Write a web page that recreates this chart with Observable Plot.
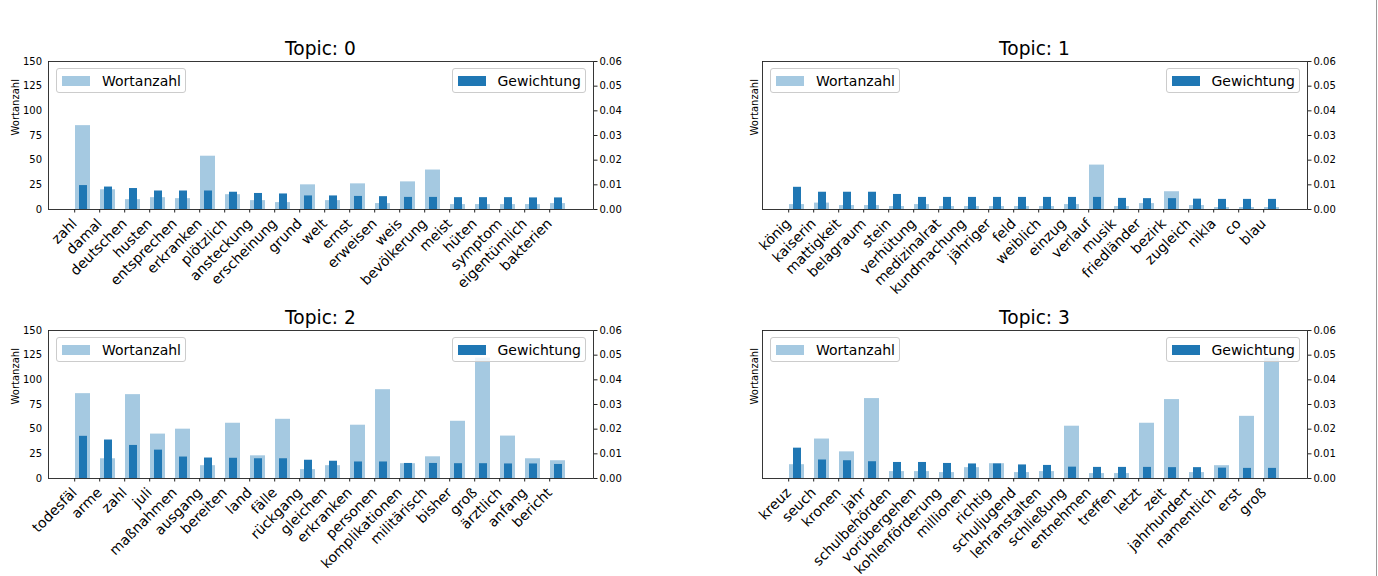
<!DOCTYPE html>
<html><head><meta charset="utf-8">
<script src="https://cdn.jsdelivr.net/npm/d3@7"></script>
<script src="https://cdn.jsdelivr.net/npm/@observablehq/plot@0.6"></script>
<style>
html,body{margin:0;padding:0;background:#fff;width:1378px;height:576px;overflow:hidden;font-family:"DejaVu Sans",sans-serif;}
#root{position:relative;width:1378px;height:576px;}
.layer{position:absolute;}
.title{position:absolute;font-size:18.6px;line-height:18.6px;text-align:center;width:545px;white-space:nowrap;color:#000;}
.legend{position:absolute;height:23px;border:1px solid #cccccc;border-radius:3px;background:rgba(255,255,255,0.8);display:flex;align-items:center;padding:0 4px 0 5px;font-size:14px;white-space:nowrap;color:#000;}
.sw{width:28px;height:10px;margin-right:12px;}
.vline{position:absolute;left:1376px;top:0;width:1px;height:576px;background:#9a9a9a;}
</style></head>
<body><div id="root"></div>
<script>
// ---- data ----
const topicTitles = ["Topic: 0", "Topic: 1", "Topic: 2", "Topic: 3"];
const seriesNames = ["Wortanzahl", "Gewichtung"];
const leftTicks = [0, 25, 50, 75, 100, 125, 150];
const rightTicks = [0, 0.01, 0.02, 0.03, 0.04, 0.05, 0.06];

const topic0Words = ["zahl","damal","deutschen","husten","entsprechen","erkranken","plötzlich","ansteckung","erscheinung","grund","welt","ernst","erweisen","weis","bevölkerung","meist","hüten","symptom","eigentümlich","bakterien"];
const topic0Counts = [85,20,10,12,11,54,15,9,7,25,9,26,6,28,40,5,5,5,5,6];
const topic0Weights = [0.0097,0.0091,0.0085,0.0075,0.0075,0.0075,0.0070,0.0065,0.0063,0.0055,0.0055,0.0053,0.0052,0.0049,0.0049,0.0048,0.0048,0.0048,0.0047,0.0047];

const topic1Words = ["könig","kaiserin","mattigkeit","belagraum","stein","verhütung","medizinalrat","kundmachung","jähriger","feld","weiblich","einzug","verlauf","musik","friedländer","bezirk","zugleich","nikla","co","blau"];
const topic1Counts = [5,6.5,4,4,3,5,3,3,3,3,3,5,45,3,6,18,4,2,2,2];
const topic1Weights = [0.0090,0.0070,0.0070,0.0070,0.0061,0.0049,0.0049,0.0049,0.0049,0.0049,0.0049,0.0049,0.0049,0.0045,0.0044,0.0044,0.0042,0.0041,0.0041,0.0041];

const topic2Words = ["todesfäl","arme","zahl","juli","maßnahmen","ausgang","bereiten","land","fälle","rückgang","gleichen","erkranken","personen","komplikationen","militärisch","bisher","groß","ärztlich","anfang","bericht"];
const topic2Counts = [86,20,85,45,50,13,56,23,60,9,13,54,90,15,22,58,122,43,20,18];
const topic2Weights = [0.0171,0.0156,0.0134,0.0115,0.0087,0.0083,0.0082,0.0080,0.0080,0.0074,0.0070,0.0067,0.0067,0.0061,0.0061,0.0060,0.0060,0.0059,0.0059,0.0057];

const topic3Words = ["kreuz","seuch","kronen","jahr","schulbehörden","vorübergehen","kohlenförderung","millionen","richtig","schuljugend","lehranstalten","schließung","entnehmen","treffen","letzt","zeit","jahrhundert","namentlich","erst","groß"];
const topic3Counts = [14,40,27,81,7,7,6,11,15,6,7,53,5,5,56,80,6,13,63,122];
const topic3Weights = [0.0123,0.0075,0.0072,0.0068,0.0065,0.0065,0.0061,0.0059,0.0059,0.0055,0.0053,0.0046,0.0045,0.0045,0.0045,0.0044,0.0044,0.0042,0.0041,0.0041];

const topicWords = [topic0Words, topic1Words, topic2Words, topic3Words];
const topicCounts = [topic0Counts, topic1Counts, topic2Counts, topic3Counts];
const topicWeights = [topic0Weights, topic1Weights, topic2Weights, topic3Weights];

// ---- layout ----
const C0 = "#1f77b4";
const lightOpacity = 0.4;
const W = 664, H = 307, ML = 48, MR = 71, MT = 61, MB = 98;
const panelPos = [{left:0, top:0}, {left:714, top:0}, {left:0, top:269}, {left:714, top:269}];
const baseStyle = {fontFamily: "DejaVu Sans", fontSize: "10px", background: "transparent", overflow: "visible", color: "#000"};

const root = document.getElementById("root");

function place(el, left, top) {
  el.classList.add("layer");
  el.style.left = left + "px";
  el.style.top = top + "px";
  root.appendChild(el);
}

topicWords.forEach((words, t) => {
  const pos = panelPos[t];
  const showLeft = pos.left === 0;
  const countData = words.map((w, i) => ({word: w, count: topicCounts[t][i]}));
  const weightData = words.map((w, i) => ({word: w, weight: topicWeights[t][i]}));

  const plotA = Plot.plot({
    width: W, height: H, marginLeft: ML, marginRight: MR, marginTop: MT, marginBottom: MB,
    style: baseStyle,
    x: {type: "band", domain: words, paddingInner: 0.4, paddingOuter: 0.98, align: 0.5},
    y: {domain: [0, 150], axis: showLeft ? undefined : null},
    marks: [
      Plot.barY(countData, {x: "word", y: "count", fill: C0, fillOpacity: lightOpacity}),
      Plot.axisX({tickRotate: -45, tickSize: 3.5, fontSize: 14, label: null, stroke: "#222", dx: -8.3}),
      showLeft ? Plot.axisY({ticks: leftTicks, tickSize: 0, tickPadding: 6.5, label: null}) : null,
      Plot.text([seriesNames[0]], {text: d => d, frameAnchor: "left", rotate: -90, dx: showLeft ? -33 : -8, fontSize: 10}),
      Plot.frame({stroke: "#222", strokeWidth: 0.9})
    ]
  });
  place(plotA, pos.left, pos.top);

  const plotB = Plot.plot({
    width: W, height: H, marginLeft: ML, marginRight: MR, marginTop: MT, marginBottom: MB,
    style: baseStyle,
    x: {type: "band", domain: words, paddingInner: 0.7, paddingOuter: 1.13, align: 0.5, axis: null},
    y: {domain: [0, 0.06]},
    marks: [
      Plot.barY(weightData, {x: "word", y: "weight", fill: C0}),
      Plot.axisY({anchor: "right", ticks: rightTicks, tickSize: 3.5, tickPadding: 2.5, tickFormat: d3.format(".2f"), label: null, stroke: "#222"})
    ]
  });
  place(plotB, pos.left, pos.top);

  const frameLeft = pos.left + ML, frameTop = pos.top + MT, frameRight = pos.left + W - MR;

  const title = document.createElement("div");
  title.className = "title";
  title.textContent = topicTitles[t];
  title.style.left = frameLeft + "px";
  title.style.top = (frameTop - 21) + "px";
  root.appendChild(title);

  const lg1 = document.createElement("div");
  lg1.className = "legend";
  lg1.innerHTML = `<div class="sw" style="background:${C0};opacity:${lightOpacity}"></div><span>${seriesNames[0]}</span>`;
  lg1.style.left = (frameLeft + 8) + "px";
  lg1.style.top = (frameTop + 7) + "px";
  root.appendChild(lg1);

  const lg2 = document.createElement("div");
  lg2.className = "legend";
  lg2.innerHTML = `<div class="sw" style="background:${C0}"></div><span>${seriesNames[1]}</span>`;
  lg2.style.right = (1378 - (frameRight - 7)) + "px";
  lg2.style.top = (frameTop + 7) + "px";
  root.appendChild(lg2);
});

const vline = document.createElement("div");
vline.className = "vline";
root.appendChild(vline);
</script>
</body></html>
